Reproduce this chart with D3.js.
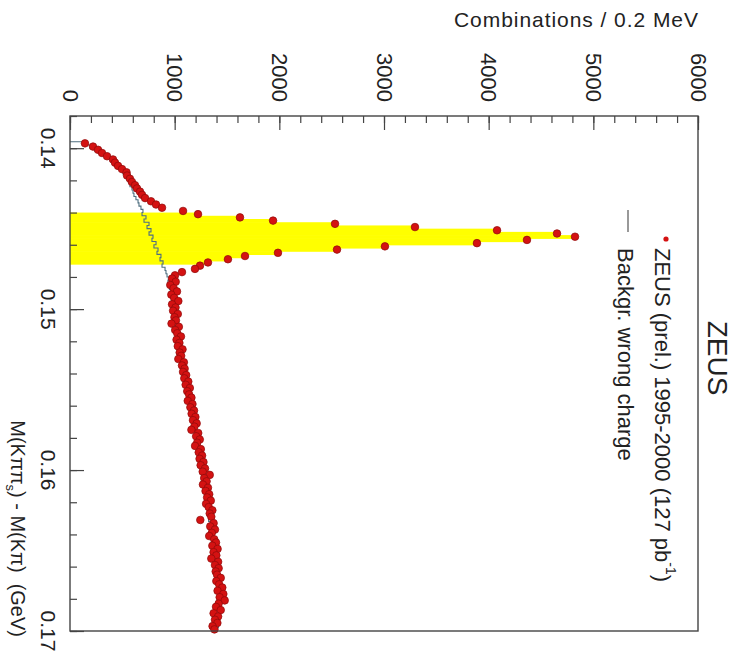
<!DOCTYPE html>
<html>
<head>
<meta charset="utf-8">
<script src="https://cdn.jsdelivr.net/npm/d3@7"></script>
<style>
  body { margin: 0; background: #fff; }
  svg { display: block; }
  text { font-family: "Liberation Sans", Arial, Helvetica, sans-serif; fill: #222; }
</style>
</head>
<body>
<div id="chart"></div>
<script>
// mass axis range and histogram binning (GeV)
const massLo = 0.138, massHi = 0.17;
const binStart = 0.1396, binWidth = 0.0002;
// signal window shaded in yellow
const signalLo = 0.144, signalHi = 0.1472;

const countTicks = [0, 1000, 2000, 3000, 4000, 5000, 6000];
const massTicks = [0.14, 0.15, 0.16, 0.17];
const massTickLabels = ["0.14", "0.15", "0.16", "0.17"];

// ZEUS data, combinations per 0.2 MeV bin, from 0.1397 upward
const dataCounts = [
  143, 220, 268, 306, 354, 411, 430, 459, 497, 540,
  545, 573, 592, 621, 640, 669, 688, 717, 774, 822,
  879, 1080,
  1223, 1624, 1940, 2532, 3296, 4080, 4653, 4825, 4366, 3888,
  3009, 2551, 1987, 1672, 1509, 1318,
  1242, 1194, 1070,
  1003, 975, 1010, 958, 990, 1022, 968, 995, 1035, 975,
  1008, 985, 1030, 998, 1012, 970, 1040, 1005, 1025, 1060,
  1018, 1045, 1030, 1075, 1048, 1062, 1035, 1088, 1070, 1095,
  1080, 1110, 1092, 1130, 1105, 1145, 1120, 1138, 1160, 1125,
  1170, 1150, 1185, 1162, 1198, 1175, 1210, 1188, 1160, 1225,
  1205, 1240, 1215, 1195, 1250, 1230, 1262, 1238, 1275, 1248,
  1290, 1268, 1335, 1282, 1305, 1270, 1318, 1295, 1330, 1310,
  1345, 1300, 1325, 1360, 1335, 1350, 1245, 1372, 1340, 1385,
  1355, 1330, 1378, 1395, 1360, 1410, 1372, 1398, 1350, 1415,
  1385, 1420, 1392, 1405, 1440, 1398, 1425, 1455, 1410, 1465,
  1430, 1478, 1420, 1395, 1440, 1372, 1415, 1385, 1408, 1362,
  1380
];

// wrong charge background, same bins
const bgCounts = [
  124, 191, 239, 287, 334, 382, 420, 449, 478, 506,
  525, 545, 564, 573, 592, 602, 611, 630, 650, 659,
  678, 697,
  688, 726, 707, 755, 736, 774, 755, 793, 783, 822,
  802, 841, 831, 869, 860, 889,
  879, 908, 917,
  927, 948, 936, 962, 950, 978, 960, 984, 972, 990,
  982, 1000, 992, 1010, 996, 1022, 1006, 1028, 1020, 1042,
  1026, 1050, 1040, 1060, 1052, 1076, 1060, 1086, 1074, 1098,
  1090, 1110, 1098, 1126, 1114, 1136, 1124, 1150, 1140, 1160,
  1148, 1174, 1162, 1184, 1170, 1196, 1180, 1204, 1196, 1216,
  1204, 1230, 1214, 1240, 1224, 1250, 1236, 1256, 1248, 1270,
  1254, 1278, 1262, 1286, 1272, 1296, 1280, 1302, 1292, 1314,
  1298, 1322, 1306, 1330, 1318, 1338, 1324, 1346, 1334, 1354,
  1340, 1362, 1350, 1370, 1356, 1378, 1366, 1384, 1372, 1392,
  1378, 1398, 1386, 1404, 1394, 1412, 1400, 1418, 1406, 1424,
  1410, 1428, 1414, 1432, 1418, 1426, 1412, 1424, 1408, 1418,
  1404
];

const width = 738, height = 656;
const plotLeft = 70, plotRight = 698, plotTop = 116, plotBottom = 631;

const svg = d3.select("#chart").append("svg")
    .attr("width", width)
    .attr("height", height);

// plot is turned a quarter turn: mass runs down, counts run right
const x = d3.scaleLinear().domain([0, 6000]).range([plotLeft, plotRight]);
const y = d3.scaleLinear().domain([massLo, massHi]).range([plotTop, plotBottom]);

const bins = dataCounts.map((c, i) => {
    const lo = binStart + i * binWidth;
    return { lo: lo, hi: lo + binWidth, mid: lo + binWidth / 2, data: c, bg: bgCounts[i] };
});

// signal window, filled histogram
svg.append("g")
    .selectAll("rect")
    .data(bins.filter(d => d.mid > signalLo && d.mid < signalHi))
    .enter().append("rect")
    .attr("x", x(0))
    .attr("y", d => y(d.lo))
    .attr("width", d => x(d.data) - x(0))
    .attr("height", d => y(d.hi) - y(d.lo) + 0.6)
    .attr("fill", "#ffff00");

// background histogram as steps
const steps = [[0, bins[0].lo]];
bins.forEach(d => {
    steps.push([d.bg, d.lo]);
    steps.push([d.bg, d.hi]);
});
svg.append("path")
    .datum(steps)
    .attr("fill", "none")
    .attr("stroke", "#4f6f80")
    .attr("stroke-width", 1.1)
    .attr("d", d3.line().x(d => x(d[0])).y(d => y(d[1])));

// data points
svg.append("g")
    .selectAll("circle")
    .data(bins)
    .enter().append("circle")
    .attr("cx", d => x(d.data))
    .attr("cy", d => y(d.mid))
    .attr("r", 3.8)
    .attr("fill", "#d41212")
    .attr("stroke", "#8e0a0a")
    .attr("stroke-width", 0.7);

// frame
svg.append("rect")
    .attr("x", plotLeft).attr("y", plotTop)
    .attr("width", plotRight - plotLeft).attr("height", plotBottom - plotTop)
    .attr("fill", "none")
    .attr("stroke", "#444")
    .attr("stroke-width", 1.4);

// count axis along the top, ticks pointing in
const minorCount = d3.range(0, 6001, 200);
svg.append("g")
    .attr("transform", `translate(0,${plotTop})`)
    .call(d3.axisBottom(x).tickValues(minorCount).tickSize(7).tickFormat(""))
    .call(g => g.select(".domain").remove())
    .call(g => g.selectAll("line").attr("stroke", "#444").attr("stroke-width", 1.2));
svg.append("g")
    .attr("transform", `translate(0,${plotTop})`)
    .call(d3.axisBottom(x).tickValues(countTicks).tickSize(14).tickFormat(""))
    .call(g => g.select(".domain").remove())
    .call(g => g.selectAll("line").attr("stroke", "#444").attr("stroke-width", 1.2));

svg.append("g")
    .selectAll("text")
    .data(countTicks)
    .enter().append("text")
    .attr("transform", d => `translate(${x(d)},${plotTop - 14}) rotate(90)`)
    .attr("text-anchor", "end")
    .attr("dominant-baseline", "central")
    .style("font-size", "22px")
    .text(d => d);

// mass axis on the left
const minorMass = d3.range(0, 17).map(i => massLo + i * 0.002);
svg.append("g")
    .attr("transform", `translate(${plotLeft},0)`)
    .call(d3.axisRight(y).tickValues(minorMass).tickSize(7).tickFormat(""))
    .call(g => g.select(".domain").remove())
    .call(g => g.selectAll("line").attr("stroke", "#444").attr("stroke-width", 1.2));
svg.append("g")
    .attr("transform", `translate(${plotLeft},0)`)
    .call(d3.axisRight(y).tickValues(massTicks).tickSize(14).tickFormat(""))
    .call(g => g.select(".domain").remove())
    .call(g => g.selectAll("line").attr("stroke", "#444").attr("stroke-width", 1.2));

svg.append("g")
    .selectAll("text")
    .data(massTicks)
    .enter().append("text")
    .attr("transform", d => `translate(48,${y(d)}) rotate(90)`)
    .attr("text-anchor", "middle")
    .attr("dominant-baseline", "central")
    .style("font-size", "21px")
    .text((d, i) => massTickLabels[i]);

// axis titles
svg.append("text")
    .attr("x", plotRight)
    .attr("y", 27)
    .attr("text-anchor", "end")
    .style("font-size", "21px")
    .attr("textLength", 244)
    .text("Combinations / 0.2 MeV");

const mt = svg.append("text")
    .attr("transform", `translate(18,637) rotate(90)`)
    .attr("text-anchor", "end")
    .attr("dominant-baseline", "central")
    .style("font-size", "20px");
mt.append("tspan").text("M(K\u03c0\u03c0");
mt.append("tspan").attr("baseline-shift", "sub").style("font-size", "13px").text("s");
mt.append("tspan").text(")\u00a0-\u00a0M(K\u03c0)\u00a0\u00a0(GeV)");

// title and legend
svg.append("text")
    .attr("transform", `translate(717,358) rotate(90)`)
    .attr("text-anchor", "middle")
    .attr("dominant-baseline", "central")
    .style("font-size", "28px")
    .text("ZEUS");

svg.append("circle")
    .attr("cx", 666).attr("cy", 239).attr("r", 2.6)
    .attr("fill", "#d41212");
const lt = svg.append("text")
    .attr("transform", `translate(663,248) rotate(90)`)
    .attr("dominant-baseline", "central")
    .style("font-size", "22px");
lt.append("tspan").text("ZEUS (prel.) 1995-2000 (127 pb");
lt.append("tspan").attr("baseline-shift", "super").style("font-size", "14px").text("-1");
lt.append("tspan").text(")");

svg.append("line")
    .attr("x1", 628).attr("x2", 628)
    .attr("y1", 210).attr("y2", 232)
    .attr("stroke", "#555").attr("stroke-width", 1.2);
svg.append("text")
    .attr("transform", `translate(625,248) rotate(90)`)
    .attr("dominant-baseline", "central")
    .style("font-size", "22px")
    .text("Backgr. wrong charge");
</script>
</body>
</html>
